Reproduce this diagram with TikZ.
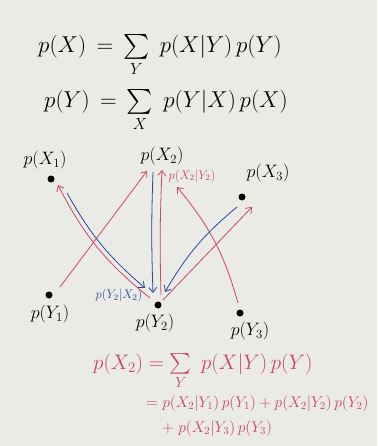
\RequirePackage{fix-cm}
\documentclass[tikz,border=0pt]{standalone}
\usepackage{amsmath}
\usetikzlibrary{arrows.meta}
\definecolor{board}{RGB}{234,234,231}
\definecolor{markred}{RGB}{204,70,96}
\definecolor{markblue}{RGB}{46,68,158}
\begin{document}
\begin{tikzpicture}[x=1pt, y=-1pt, >={Straight Barb[length=5pt,width=8pt]},
	dot/.style={circle, fill=black, inner sep=0pt, minimum size=7pt},
	lbl/.style={font=\fontsize{18}{21}\selectfont, inner sep=1pt},
	cond/.style={font=\fontsize{12.5}{15}\selectfont, inner sep=1pt},
	eq/.style={font=\fontsize{23}{27}\selectfont, anchor=base west, inner sep=0pt},
	sumline/.style={font=\fontsize{15.5}{18}\selectfont, anchor=base west, inner sep=0pt, text=markred},
	redarr/.style={->, draw=markred, line width=0.8pt},
	bluearr/.style={->, draw=markblue, line width=0.8pt}]
	
	% 1. Board background (fixes the picture size)
	\fill[board] (0,0) rectangle (377,446);
	
	% 2. The two marginal sums at the top
	\node[eq] (eqx) at (38,53) {$p(X) \,=\, \sum\limits_{Y}\; p(X|Y)\,p(Y)$};
	\node[eq] (eqy) at (44,108) {$p(Y) \,=\, \sum\limits_{X}\; p(Y|X)\,p(X)$};
	
	% 3. Points of X (top row) and Y (bottom row)
	\node[dot] (x1) at (51,179) {};
	\coordinate (x2) at (157,172);
	\node[dot] (x3) at (242,197) {};
	\node[dot] (y1) at (49,295) {};
	\node[dot] (y2) at (158,305) {};
	\node[dot] (y3) at (240,313) {};
	
	% their labels
	\node[lbl] (lx1) at (45,160) {$p(X_1)$};
	\node[lbl] (lx2) at (162,156) {$p(X_2)$};
	\node[lbl] (lx3) at (268,173) {$p(X_3)$};
	\node[lbl] (ly1) at (50,314) {$p(Y_1)$};
	\node[lbl] (ly2) at (155,323) {$p(Y_2)$};
	\node[lbl] (ly3) at (250,331) {$p(Y_3)$};
	
	% conditional labels
	\node[cond, text=markblue] (lyx) at (119,295) {$p(Y_2|X_2)$};
	\node[cond, text=markred] (lxy) at (192,176) {$p(X_2|Y_2)$};
	
	% 4. Red arrows: from Y up to X
	\draw[redarr] ([shift={(11,-8)}]y1.center) -- ([shift={(-10,-1)}]x2);
	\draw[redarr] ([shift={(-8,-7)}]y2.center) to[bend left=12] ([shift={(7,6)}]x1.center);
	\draw[redarr] ([shift={(3,-10)}]y2.center) to[bend left=2] ([shift={(5,-2)}]x2);
	\draw[redarr] ([shift={(5,-5)}]y2.center) -- ([shift={(10,10)}]x3.center);
	\draw[redarr] ([shift={(-2,-10)}]y3.center) to[bend right=12] ([shift={(-15,11)}]lxy.center);
	
	% 5. Blue arrows: from X down to Y_2
	\draw[bluearr] ([shift={(16,14)}]x1.center) to[bend right=10] ([shift={(-13,-17)}]y2.center);
	\draw[bluearr] ([shift={(-4,0)}]x2) to[bend right=2] ([shift={(-5,-12)}]y2.center);
	\draw[bluearr] ([shift={(-5,10)}]x3.center) to[bend right=10] ([shift={(7,-13)}]y2.center);
	
	% 6. Worked example for X_2
	\node[eq, font=\fontsize{21}{25}\selectfont, text=markred] (eqx2) at (93,369) {$p(X_2) = \sum\limits_{Y}\; p(X|Y)\,p(Y)$};
	\node[sumline] (sum1) at (146,407) {$= p(X_2|Y_1)\,p(Y_1) + p(X_2|Y_2)\,p(Y_2)$};
	\node[sumline] (sum2) at (162,432) {$+\; p(X_2|Y_3)\,p(Y_3)$};
	
\end{tikzpicture}
\end{document}
